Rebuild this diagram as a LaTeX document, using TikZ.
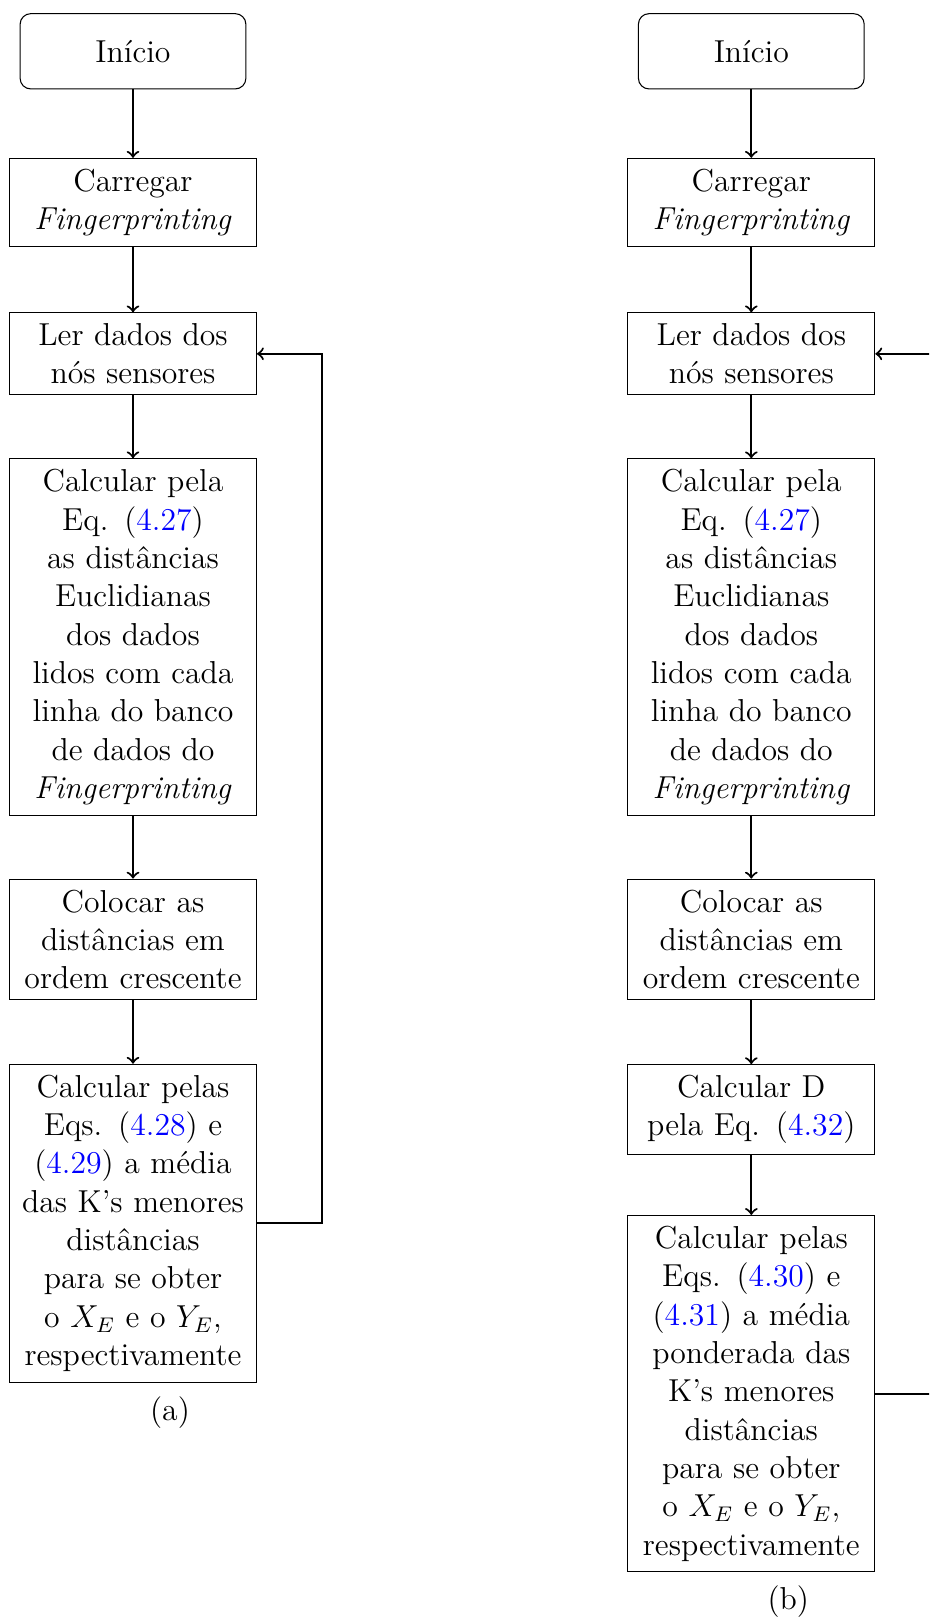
\documentclass[tikz,border=0pt,12pt]{standalone}
\usetikzlibrary{arrows}
\tikzset{
  stepbox/.style={draw, rectangle, text width=3cm, align=center},
  startbox/.style={draw, rectangle, rounded corners=4pt, minimum width=3cm, minimum height=1cm, align=center},
  flow/.style={->, thick},
  caption/.style={inner sep=0pt}
}
\newcommand{\eqlink}[1]{(\textcolor{blue}{#1})}
\begin{document}
\begin{tikzpicture}[x=0.3781pt, y=-0.3781pt]
  \useasboundingbox (0,0) rectangle (929,1619);
  \clip (0,0) rectangle (929,1619);

  % ---------- (a) ----------
  \node[startbox] (ia) at (133,51.3) {Início};
  \node[stepbox] (fa) at (133,202.5) {Carregar\\\textit{Fingerprinting}};
  \node[stepbox] (la) at (133,353.8) {Ler dados dos\\nós sensores};
  \node[stepbox] (ea) at (133,637.2) {Calcular pela\\Eq. \eqlink{4.27}\\as distâncias\\Euclidianas\\dos dados\\lidos com cada\\linha do banco\\de dados do\\\textit{Fingerprinting}};
  \node[stepbox] (oa) at (133,939.4) {Colocar as\\distâncias em\\ordem crescente};
  \node[stepbox] (ma) at (133,1223.3) {Calcular pelas\\Eqs. \eqlink{4.28} e\\\eqlink{4.29} a média\\das K's menores\\distâncias\\para se obter\\o $X_E$ e o $Y_E$,\\respectivamente};
  \node[caption] (capa) at (170,1413) {(a)};

  \draw[flow] (ia) -- (fa);
  \draw[flow] (fa) -- (la);
  \draw[flow] (la) -- (ea);
  \draw[flow] (ea) -- (oa);
  \draw[flow] (oa) -- (ma);
  \draw[flow] (ma.east) -- ++(64.7,0) |- (la.east);

  % ---------- (b) ----------
  \node[startbox] (ib) at (751.3,51.3) {Início};
  \node[stepbox] (fb) at (751.3,202.5) {Carregar\\\textit{Fingerprinting}};
  \node[stepbox] (lb) at (751.3,353.8) {Ler dados dos\\nós sensores};
  \node[stepbox] (eb) at (751.3,637.2) {Calcular pela\\Eq. \eqlink{4.27}\\as distâncias\\Euclidianas\\dos dados\\lidos com cada\\linha do banco\\de dados do\\\textit{Fingerprinting}};
  \node[stepbox] (ob) at (751.3,939.4) {Colocar as\\distâncias em\\ordem crescente};
  \node[stepbox] (db) at (751.3,1109.6) {Calcular D\\pela Eq. \eqlink{4.32}};
  \node[stepbox] (mb) at (751.3,1393.7) {Calcular pelas\\Eqs. \eqlink{4.30} e\\\eqlink{4.31} a média\\ponderada das\\K's menores\\distâncias\\para se obter\\o $X_E$ e o $Y_E$,\\respectivamente};
  \node[caption] (capb) at (788.3,1601.7) {(b)};

  \draw[flow] (ib) -- (fb);
  \draw[flow] (fb) -- (lb);
  \draw[flow] (lb) -- (eb);
  \draw[flow] (eb) -- (ob);
  \draw[flow] (ob) -- (db);
  \draw[flow] (db) -- (mb);
  \draw[flow] (mb.east) -- ++(64.7,0) |- (lb.east);
\end{tikzpicture}
\end{document}
